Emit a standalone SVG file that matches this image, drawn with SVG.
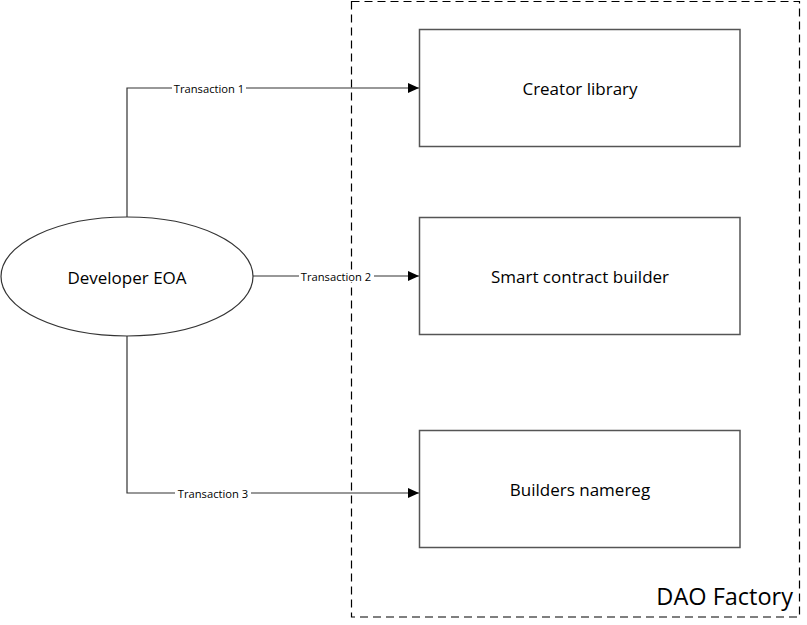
<svg xmlns="http://www.w3.org/2000/svg" width="807" height="625" viewBox="0 0 807 625">
<style>
.box{fill:#fff;stroke:#555;stroke-width:1.5}
.lbl{font-family:"Open Sans","Noto Sans",sans-serif;font-size:17px;fill:#000;text-anchor:middle;dominant-baseline:central}
.edge{fill:none;stroke:#333;stroke-width:1.2}
.elbl{font-family:"Open Sans","Noto Sans",sans-serif;font-size:11.2px;fill:#000;text-anchor:middle;dominant-baseline:central}
.bg{fill:#fff}
</style>
<defs>
<marker id="arr" markerWidth="12" markerHeight="10" refX="11" refY="5" orient="auto" markerUnits="userSpaceOnUse">
<path d="M0,0 L11,5 L0,10 Z" fill="#000"/>
</marker>
</defs>
<rect width="807" height="625" fill="#fff"/>
<g id="dao-factory">
<rect x="351.5" y="1.5" width="448" height="615.5" fill="none" stroke="#000" stroke-width="1.2" stroke-dasharray="8,5"/>
<text x="793" y="596" font-family="'Open Sans','Noto Sans',sans-serif" font-size="23.5px" text-anchor="end" dominant-baseline="central" fill="#000">DAO Factory</text>
</g>
<g id="edges">
<path class="edge" d="M127,217 V88 H419" marker-end="url(#arr)"/>
<rect class="bg" x="172" y="82" width="74" height="12"/>
<text class="elbl" x="209" y="88">Transaction 1</text>
<path class="edge" d="M253,276 H419" marker-end="url(#arr)"/>
<rect class="bg" x="299" y="270" width="75" height="12"/>
<text class="elbl" x="336" y="276">Transaction 2</text>
<path class="edge" d="M127,336 V493 H419" marker-end="url(#arr)"/>
<rect class="bg" x="175" y="487" width="76" height="12"/>
<text class="elbl" x="213" y="493">Transaction 3</text>
</g>
<g id="developer-eoa">
<ellipse cx="127" cy="276.5" rx="126" ry="59.5" fill="#fff" stroke="#333" stroke-width="1.2"/>
<text class="lbl" x="127" y="277">Developer EOA</text>
</g>
<g id="creator-library">
<rect class="box" x="419.5" y="29.5" width="320.5" height="117"/>
<text class="lbl" x="580" y="88">Creator library</text>
</g>
<g id="smart-contract-builder">
<rect class="box" x="419.5" y="217.5" width="320.5" height="117"/>
<text class="lbl" x="580" y="276">Smart contract builder</text>
</g>
<g id="builders-namereg">
<rect class="box" x="419.5" y="430.5" width="320.5" height="117"/>
<text class="lbl" x="580" y="489">Builders namereg</text>
</g>
</svg>
